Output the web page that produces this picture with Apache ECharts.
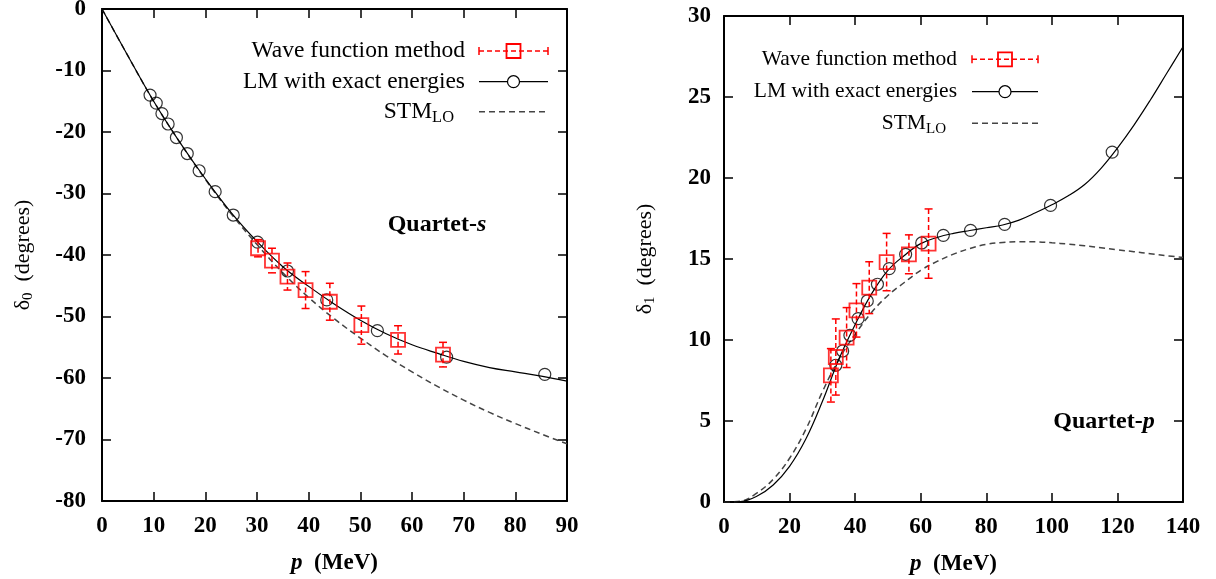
<!DOCTYPE html>
<html lang="en">
<head>
<meta charset="utf-8">
<title>Quartet phase shifts</title>
<script src="https://cdn.jsdelivr.net/npm/echarts@6/dist/echarts.min.js"></script>
<style>
    html, body, #main {
        width: 100%;
        height: 100%;
        margin: 0;
        padding: 0;
        overflow: hidden;
        background-color: #ffffff;
    }
</style>
</head>
<body>
<div id="main"></div>
<script>
    // ---- Quartet-s (left panel) ----
    var sCurveP = [0, 5, 10, 15, 20, 25, 30, 35, 40, 45, 50, 55, 60, 65, 70, 75, 80, 85, 90];
    var sLmCurve = [0, -7.6, -15.0, -21.6, -27.6, -33.1, -37.8, -41.9, -45.1, -48.0, -50.6, -52.8, -54.6, -56.0, -57.3, -58.3, -59.0, -59.7, -60.5];
    var sStmCurve = [0, -7.6, -15.0, -21.6, -27.7, -33.3, -38.3, -42.9, -46.9, -50.4, -53.5, -56.4, -59.0, -61.4, -63.6, -65.6, -67.4, -69.1, -70.7];
    var sLmPointP = [9.3, 10.5, 11.6, 12.8, 14.4, 16.5, 18.8, 21.9, 25.4, 30.1, 35.9, 43.5, 53.3, 66.7, 85.7];
    var sLmPointV = [-14.0, -15.3, -17.0, -18.7, -20.9, -23.5, -26.3, -29.7, -33.5, -37.9, -42.6, -47.3, -52.3, -56.6, -59.4];
    var sWaveP = [30.2, 32.9, 35.9, 39.4, 44.1, 50.2, 57.3, 66.0];
    var sWaveV = [-38.9, -40.9, -43.5, -45.7, -47.6, -51.4, -53.8, -56.2];
    var sWaveErr = [1.4, 2.0, 2.2, 3.0, 3.0, 3.1, 2.3, 2.0];

    // ---- Quartet-p (right panel) ----
    var pCurveP = [0, 5, 10, 15, 20, 25, 30, 35, 40, 45, 50, 55, 60, 65, 70, 75, 80, 85, 90, 95, 100, 105, 110, 115, 120, 125, 130, 135, 140];
    var pLmCurve = [0, 0.02, 0.35, 1.05, 2.2, 3.9, 6.2, 8.8, 10.95, 12.85, 14.3, 15.22, 15.95, 16.33, 16.58, 16.76, 16.93, 17.1, 17.4, 17.85, 18.35, 18.9, 19.6, 20.6, 21.85, 23.25, 24.8, 26.45, 28.1];
    var pStmCurve = [0, 0.05, 0.55, 1.4, 2.7, 4.5, 6.8, 8.8, 10.35, 11.7, 12.75, 13.55, 14.3, 14.85, 15.3, 15.65, 15.9, 16.02, 16.07, 16.06, 16.0, 15.92, 15.82, 15.7, 15.57, 15.45, 15.32, 15.2, 15.1];
    var pLmPointP = [34.1, 36.2, 38.4, 40.9, 43.7, 46.8, 50.4, 55.4, 60.3, 66.9, 75.2, 85.6, 99.6, 118.4];
    var pLmPointV = [8.44, 9.32, 10.29, 11.32, 12.41, 13.44, 14.41, 15.29, 15.99, 16.46, 16.77, 17.14, 18.31, 21.6];
    var pWaveP = [32.6, 34.1, 37.4, 40.4, 44.3, 49.6, 56.4, 62.4];
    var pWaveV = [7.82, 8.95, 10.15, 11.83, 13.23, 14.81, 15.29, 15.95];
    var pWaveErr = [1.65, 2.35, 1.85, 1.65, 1.6, 1.77, 1.2, 2.14];

    var legendNames = ['Wave function method', 'LM with exact energies', '{a|STM}{b|LO}'];

    var FONT = 'Liberation Serif';
    var RED = '#ff0000';
    var GREY = '#444444';

    function zip(xs, ys) {
        return xs.map(function (x, i) { return [x, ys[i]]; });
    }

    function zip3(xs, ys, es) {
        return xs.map(function (x, i) { return [x, ys[i], es[i]]; });
    }

    // vertical dashed error bar with short caps
    function renderErrorBar(params, api) {
        var x = api.value(0), y = api.value(1), e = api.value(2);
        var hi = api.coord([x, y + e]);
        var lo = api.coord([x, y - e]);
        var cap = 4;
        var solid = { stroke: RED, lineWidth: 1.5 };
        return {
            type: 'group',
            children: [
                { type: 'line', shape: { x1: hi[0], y1: hi[1], x2: lo[0], y2: lo[1] }, style: { stroke: RED, lineWidth: 1.5, lineDash: [5, 3] } },
                { type: 'line', shape: { x1: hi[0] - cap, y1: hi[1], x2: hi[0] + cap, y2: hi[1] }, style: solid },
                { type: 'line', shape: { x1: lo[0] - cap, y1: lo[1], x2: lo[0] + cap, y2: lo[1] }, style: solid }
            ]
        };
    }

    function xAxes(grid, max, interval) {
        var common = {
            gridIndex: grid, type: 'value', min: 0, max: max, interval: interval,
            axisLine: { onZero: false, lineStyle: { color: '#000', width: 2 } },
            axisTick: { inside: true, length: 9, lineStyle: { color: '#000', width: 1.5 } },
            splitLine: { show: false }
        };
        return [
            Object.assign({}, common, {
                position: 'bottom',
                axisLabel: { margin: 14, color: '#000', fontFamily: FONT, fontSize: 23, fontWeight: 'bold' },
                name: '{i|p}{n|  (MeV)}', nameLocation: 'middle', nameGap: 51,
                nameTextStyle: {
                    rich: {
                        i: { fontFamily: FONT, fontSize: 23, fontStyle: 'italic', fontWeight: 'bold', color: '#000' },
                        n: { fontFamily: FONT, fontSize: 23, fontWeight: 'bold', color: '#000' }
                    }
                }
            }),
            Object.assign({}, common, { position: 'top', axisLabel: { show: false } })
        ];
    }

    function yAxes(grid, min, max, interval, sub, margin) {
        var common = {
            gridIndex: grid, type: 'value', min: min, max: max, interval: interval,
            axisLine: { onZero: false, lineStyle: { color: '#000', width: 2 } },
            axisTick: { inside: true, length: 9, lineStyle: { color: '#000', width: 1.5 } },
            splitLine: { show: false }
        };
        return [
            Object.assign({}, common, {
                position: 'left',
                axisLabel: { margin: margin, color: '#000', fontFamily: FONT, fontSize: 23, fontWeight: 'bold' },
                name: '{d|δ}{s|' + sub + '}{d|  (degrees)}', nameLocation: 'middle', nameGap: 66, nameRotate: 90,
                nameTextStyle: {
                    rich: {
                        d: { fontFamily: FONT, fontSize: 22, color: '#000' },
                        s: { fontFamily: FONT, fontSize: 15, color: '#000', padding: [10, 0, 0, 0] }
                    }
                }
            }),
            Object.assign({}, common, { position: 'right', axisLabel: { show: false } })
        ];
    }

    function panelSeries(xi, yi, curveP, lmCurve, stmCurve, lmP, lmV, waveP, waveV, waveErr) {
        return [
            {
                type: 'line', xAxisIndex: xi, yAxisIndex: yi, data: zip(curveP, stmCurve),
                showSymbol: false, smooth: 0.4, lineStyle: { color: GREY, width: 1.5, type: [6, 4] }, z: 2
            },
            {
                type: 'line', xAxisIndex: xi, yAxisIndex: yi, data: zip(curveP, lmCurve),
                showSymbol: false, smooth: 0.4, lineStyle: { color: '#000', width: 1.2 }, z: 3
            },
            {
                type: 'scatter', xAxisIndex: xi, yAxisIndex: yi, data: zip(lmP, lmV),
                symbol: 'circle', symbolSize: 12,
                itemStyle: { color: 'rgba(0,0,0,0)', borderColor: '#000', borderWidth: 1.2 }, z: 4
            },
            {
                type: 'custom', xAxisIndex: xi, yAxisIndex: yi, data: zip3(waveP, waveV, waveErr),
                renderItem: renderErrorBar, encode: { x: 0, y: [1] }, z: 5
            },
            {
                type: 'scatter', xAxisIndex: xi, yAxisIndex: yi, data: zip(waveP, waveV),
                symbol: 'rect', symbolSize: 14,
                itemStyle: { color: 'rgba(0,0,0,0)', borderColor: RED, borderWidth: 1.8 }, z: 6
            }
        ];
    }

    // gnuplot-style key: text on the left, sample on the right
    function keyRows(textRight, x1, x2, ys, size) {
        var mid = (x1 + x2) / 2;
        var txt = { fontFamily: FONT, fontSize: size, fill: '#000', align: 'right', verticalAlign: 'middle', textAlign: 'right', textVerticalAlign: 'middle' };
        var els = [];
        // Wave function method
        els.push({ type: 'text', x: textRight, y: ys[0], style: Object.assign({ text: legendNames[0] }, txt) });
        els.push({ type: 'line', shape: { x1: x1, y1: ys[0], x2: x2, y2: ys[0] }, style: { stroke: RED, lineWidth: 1.5, lineDash: [5, 3] } });
        els.push({ type: 'line', shape: { x1: x1, y1: ys[0] - 4, x2: x1, y2: ys[0] + 4 }, style: { stroke: RED, lineWidth: 1.5 } });
        els.push({ type: 'line', shape: { x1: x2, y1: ys[0] - 4, x2: x2, y2: ys[0] + 4 }, style: { stroke: RED, lineWidth: 1.5 } });
        els.push({ type: 'rect', shape: { x: mid - 7, y: ys[0] - 7, width: 14, height: 14 }, style: { fill: 'none', stroke: RED, lineWidth: 1.8 } });
        // LM with exact energies
        els.push({ type: 'text', x: textRight, y: ys[1], style: Object.assign({ text: legendNames[1] }, txt) });
        els.push({ type: 'line', shape: { x1: x1, y1: ys[1], x2: x2, y2: ys[1] }, style: { stroke: '#000', lineWidth: 1.2 } });
        els.push({ type: 'circle', shape: { cx: mid, cy: ys[1], r: 6 }, style: { fill: '#fff', stroke: '#000', lineWidth: 1.2 } });
        // STM_LO
        els.push({
            type: 'text', x: textRight - 11, y: ys[2],
            style: Object.assign({
                text: legendNames[2],
                rich: {
                    a: { fontFamily: FONT, fontSize: size, fill: '#000' },
                    b: { fontFamily: FONT, fontSize: size * 0.7, fill: '#000', padding: [12, 0, 0, 0] }
                }
            }, txt)
        });
        els.push({ type: 'line', shape: { x1: x1, y1: ys[2], x2: x2, y2: ys[2] }, style: { stroke: GREY, lineWidth: 1.5, lineDash: [6, 4] } });
        return els;
    }

    function label(text, italic, x, y) {
        return {
            type: 'text', x: x, y: y,
            style: {
                text: '{a|' + text + '}{b|' + italic + '}',
                align: 'center', verticalAlign: 'middle', textAlign: 'center', textVerticalAlign: 'middle',
                rich: {
                    a: { fontFamily: FONT, fontSize: 24, fontWeight: 'bold', fill: '#000' },
                    b: { fontFamily: FONT, fontSize: 24, fontWeight: 'bold', fontStyle: 'italic', fill: '#000' }
                }
            }
        };
    }

    var chart = echarts.init(document.getElementById('main'));
    var option = {
        animation: false,
        backgroundColor: '#ffffff',
        grid: [
            { left: 102, top: 9, width: 465, height: 492, outerBoundsMode: 'none' },
            { left: 724, top: 16, width: 459, height: 486, outerBoundsMode: 'none' }
        ],
        xAxis: xAxes(0, 90, 10).concat(xAxes(1, 140, 20)),
        yAxis: yAxes(0, -80, 0, 10, '0', 16).concat(yAxes(1, 0, 30, 5, '1', 13)),
        series: panelSeries(0, 0, sCurveP, sLmCurve, sStmCurve, sLmPointP, sLmPointV, sWaveP, sWaveV, sWaveErr)
            .concat(panelSeries(2, 2, pCurveP, pLmCurve, pStmCurve, pLmPointP, pLmPointV, pWaveP, pWaveV, pWaveErr)),
        graphic: keyRows(465, 479, 548, [51, 81.7, 111.7], 23.5)
            .concat(keyRows(957, 972, 1038, [59.3, 91.7, 123.3], 21.5))
            .concat([label('Quartet-', 's', 437, 225), label('Quartet-', 'p', 1104, 422)])
    };
    chart.setOption(option);
</script>
</body>
</html>
